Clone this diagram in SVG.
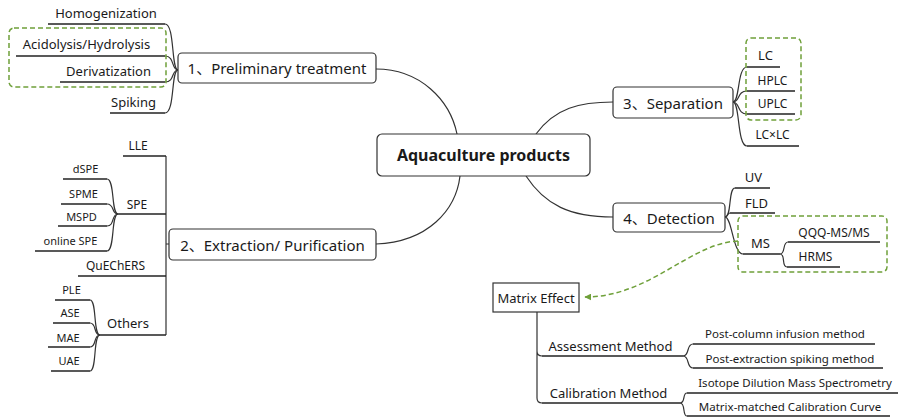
<svg xmlns="http://www.w3.org/2000/svg" width="899" height="418" viewBox="0 0 899 418">
<defs>
<style>
text{font-family:"Noto Sans","Open Sans","Noto Sans CJK SC",sans-serif;fill:#1a1a1a;text-anchor:middle;dominant-baseline:central}
.t15{font-size:15px}
.t13{font-size:13px}
.t12{font-size:12px}
.t11{font-size:11px}
.t115{font-size:11.5px}
.bold{font-weight:bold;font-size:16px}
.box{fill:#fff;stroke:#333;stroke-width:1.2}
.ln{fill:none;stroke:#222;stroke-width:1.4}
.cv{fill:none;stroke:#333;stroke-width:1.2}
.grn{fill:none;stroke:#6fa03a;stroke-width:1.5;stroke-dasharray:5 3}
</style>
<marker id="ah" viewBox="0 0 10 10" refX="9" refY="5" markerWidth="7" markerHeight="7" orient="auto" markerUnits="userSpaceOnUse">
<path d="M0,0 L10,5 L0,10 z" fill="#6fa03a"/>
</marker>
</defs>
<rect width="899" height="418" fill="#fff"/>

<g id="connectors">
<path class="cv" d="M376,69 C420,69 450,100 457,134"/>
<path class="cv" d="M376,244 C428,242 456,210 460,176"/>
<path class="cv" d="M536,134 C555,108 580,102 613,102"/>
<path class="cv" d="M526,176 C545,205 570,217 613,217"/>
<path class="cv" d="M178,70 C171,70 175,24 165,24"/>
<path class="cv" d="M178,70 C171,70 175,56 165,56"/>
<path class="cv" d="M178,70 C171,70 175,82 165,82"/>
<path class="cv" d="M178,70 C171,70 175,113 165,113"/>
<path class="cv" d="M166,156 V335 M166,244 H169"/>
<path class="cv" d="M118,214 C111,214 115,179 107,179"/>
<path class="cv" d="M118,214 C111,214 115,204 107,204"/>
<path class="cv" d="M118,214 C111,214 115,226 107,226"/>
<path class="cv" d="M118,214 C111,214 115,251 107,251"/>
<path class="cv" d="M100,335 C93,335 97,300 90,300"/>
<path class="cv" d="M100,335 C93,335 97,323 90,323"/>
<path class="cv" d="M100,335 C93,335 97,347 90,347"/>
<path class="cv" d="M100,335 C93,335 97,371 90,371"/>
<path class="cv" d="M733,102 C740,102 737,67 747,67"/>
<path class="cv" d="M733,102 C740,102 737,91 747,91"/>
<path class="cv" d="M733,102 C740,102 737,114 747,114"/>
<path class="cv" d="M733,102 C740,102 737,146 747,146"/>
<path class="cv" d="M725,217 C732,217 728,188 735,188"/>
<path class="cv" d="M725,217 C728,217 727,213 730,213"/>
<path class="cv" d="M725,217 C732,217 733,254 743,254"/>
<path class="cv" d="M780,254 C786,254 782,242 788,242"/>
<path class="cv" d="M780,254 C786,254 781,267 787,267"/>
<path class="cv" d="M537,312 V398 Q537,403 542,403 M537,351 Q537,356 542,356"/>
<path class="cv" d="M683,356 C690,356 686,344 693,344"/>
<path class="cv" d="M683,356 C690,356 686,368 693,368"/>
<path class="cv" d="M680,403 C686,403 682,393 687,393"/>
<path class="cv" d="M680,403 C686,403 682,416 687,416"/>
<path class="grn" d="M738,241 C690,243 650,297 585,297" marker-end="url(#ah)"/>
</g>

<g id="center">
<rect class="box" x="377" y="134" width="213" height="42" rx="5"/>
<text class="bold" x="483.5" y="155">Aquaculture products</text>
</g>

<g id="node1">
<rect class="box" x="178" y="53" width="198" height="30" rx="4"/>
<text class="t15" x="277" y="68">1、Preliminary treatment</text>
</g>
<g id="n1-homogenization"><path class="ln" d="M48,24 H165"/><text class="t13" x="106" y="13">Homogenization</text></g>
<g id="n1-acidolysis"><path class="ln" d="M16,56 H165"/><text class="t13" x="86.5" y="44">Acidolysis/Hydrolysis</text></g>
<g id="n1-derivatization"><path class="ln" d="M60,82 H165"/><text class="t13" x="108.5" y="71">Derivatization</text></g>
<g id="n1-spiking"><path class="ln" d="M110,113 H165"/><text class="t13" x="133.5" y="102">Spiking</text></g>
<rect class="grn" x="9" y="28" width="157" height="59" rx="5"/>

<g id="node2">
<rect class="box" x="169" y="229" width="207" height="31" rx="4"/>
<text class="t15" x="272.5" y="244.5">2、Extraction/ Purification</text>
</g>
<g id="n2-lle"><path class="ln" d="M123,156 H166"/><text class="t12" x="138" y="145">LLE</text></g>
<g id="n2-spe"><path class="ln" d="M118,214 H166"/><text class="t12" x="137" y="204">SPE</text></g>
<g id="spe-dspe"><path class="ln" d="M63,179 H107"/><text class="t11" x="85.5" y="168">dSPE</text></g>
<g id="spe-spme"><path class="ln" d="M61,204 H107"/><text class="t11" x="83.5" y="193">SPME</text></g>
<g id="spe-mspd"><path class="ln" d="M58,226 H107"/><text class="t11" x="81.5" y="216">MSPD</text></g>
<g id="spe-online"><path class="ln" d="M35,251 H107"/><text class="t11" x="70.5" y="240">online SPE</text></g>
<g id="n2-quechers"><path class="ln" d="M78,276 H166"/><text class="t12" x="115.5" y="265">QuEChERS</text></g>
<g id="n2-others"><path class="ln" d="M100,335 H166"/><text class="t13" x="128" y="323">Others</text></g>
<g id="oth-ple"><path class="ln" d="M55,300 H90"/><text class="t11" x="71.5" y="289">PLE</text></g>
<g id="oth-ase"><path class="ln" d="M53,323 H90"/><text class="t11" x="70" y="312">ASE</text></g>
<g id="oth-mae"><path class="ln" d="M48,347 H90"/><text class="t11" x="68" y="337">MAE</text></g>
<g id="oth-uae"><path class="ln" d="M51,371 H90"/><text class="t11" x="69" y="360">UAE</text></g>

<g id="node3">
<rect class="box" x="613" y="87" width="120" height="31" rx="4"/>
<text class="t15" x="673" y="102.5">3、Separation</text>
</g>
<g id="n3-lc"><path class="ln" d="M747,67 H780"/><text class="t13" x="765.5" y="55">LC</text></g>
<g id="n3-hplc"><path class="ln" d="M747,91 H795"/><text class="t12" x="772.5" y="80">HPLC</text></g>
<g id="n3-uplc"><path class="ln" d="M747,114 H795"/><text class="t12" x="772.5" y="103">UPLC</text></g>
<g id="n3-lclc"><path class="ln" d="M747,146 H799"/><text class="t12" x="772.5" y="134">LC×LC</text></g>
<rect class="grn" x="746" y="38" width="55" height="82" rx="5"/>

<g id="node4">
<rect class="box" x="613" y="203" width="112" height="29" rx="4"/>
<text class="t15" x="669" y="217.5">4、Detection</text>
</g>
<g id="n4-uv"><path class="ln" d="M735,188 H770"/><text class="t13" x="753.5" y="177">UV</text></g>
<g id="n4-fld"><path class="ln" d="M730,213 H775"/><text class="t13" x="756.5" y="203">FLD</text></g>
<g id="n4-ms"><path class="ln" d="M743,254 H780"/><text class="t13" x="760.5" y="243">MS</text></g>
<g id="ms-qqq"><path class="ln" d="M788,242 H880"/><text class="t12" x="834" y="232">QQQ-MS/MS</text></g>
<g id="ms-hrms"><path class="ln" d="M787,267 H840"/><text class="t12" x="815.5" y="256">HRMS</text></g>
<rect class="grn" x="738" y="216" width="149" height="56" rx="5"/>

<g id="matrix-effect">
<rect class="box" x="493" y="283" width="86" height="29"/>
<text class="t13" x="536" y="297.5">Matrix Effect</text>
</g>
<g id="me-assessment"><path class="ln" d="M542,356 H683"/><text class="t13" x="610.5" y="346">Assessment Method</text></g>
<g id="me-postcolumn"><path class="ln" d="M693,344 H875"/><text class="t115" x="785" y="333">Post-column infusion method</text></g>
<g id="me-postextraction"><path class="ln" d="M693,368 H883"/><text class="t115" x="790" y="358">Post-extraction spiking method</text></g>
<g id="me-calibration"><path class="ln" d="M542,403 H680"/><text class="t13" x="608.5" y="393">Calibration Method</text></g>
<g id="me-idms"><path class="ln" d="M687,393 H898"/><text class="t115" x="795" y="382">Isotope Dilution Mass Spectrometry</text></g>
<g id="me-mmcc"><path class="ln" d="M687,416 H890"/><text class="t115" x="790" y="406">Matrix-matched Calibration Curve</text></g>
</svg>
